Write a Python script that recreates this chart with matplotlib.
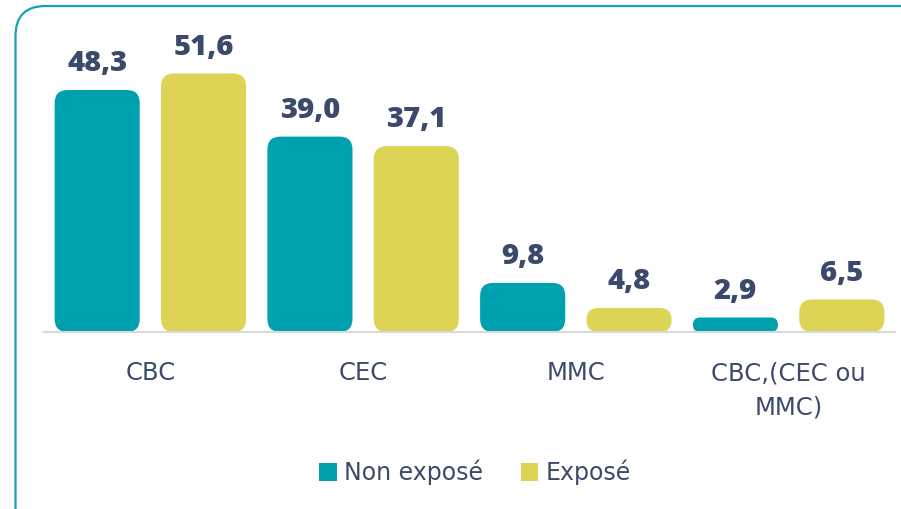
import matplotlib
matplotlib.use("Agg")
import matplotlib.pyplot as plt
from matplotlib.patches import FancyBboxPatch, Patch
from matplotlib.transforms import IdentityTransform

categories = ["CBC", "CEC", "MMC", "CBC,(CEC ou\nMMC)"]
series_names = ["Non exposé", "Exposé"]
non_expose = [48.3, 39.0, 9.8, 2.9]
expose = [51.6, 37.1, 4.8, 6.5]
value_labels_non = ["48,3", "39,0", "9,8", "2,9"]
value_labels_exp = ["51,6", "37,1", "4,8", "6,5"]

TEAL = "#00A1AF"
YELLOW = "#DDD455"
NAVY = "#3B4A6B"
VFONT = "Open Sans"
TFONT = "DejaVu Sans"

W, H, DPI = 901, 509, 100
fig = plt.figure(figsize=(W / DPI, H / DPI), dpi=DPI)
fig.patch.set_facecolor("white")

# outer rounded frame (partially cut at right and bottom)
frame = FancyBboxPatch((15.5, -40), 940, 506 + 40 - 3, boxstyle="round,pad=0,rounding_size=30",
                       transform=IdentityTransform(), fill=False, edgecolor="#14A3B3", linewidth=1.6)
fig.patches.append(frame)

ax_left, ax_right = 44, 895
ax_bottom = H - 332
ymax = 60
px_per_unit = 5.01
ax_h = ymax * px_per_unit
ax = fig.add_axes([ax_left / W, ax_bottom / H, (ax_right - ax_left) / W, ax_h / H])
ax.set_xlim(-0.5, 3.5)
ax.set_ylim(0, ymax)

x = list(range(len(categories)))
bw = 0.4
off = 0.25
bars1 = ax.bar([i - off for i in x], non_expose, width=bw, color=TEAL)
bars2 = ax.bar([i + off for i in x], expose, width=bw, color=YELLOW)

# replace rectangles with rounded patches
x_px_per_unit = (ax_right - ax_left) / 4.0
aspect = (1 / px_per_unit) / (1 / x_px_per_unit)
for bars in (bars1, bars2):
    for r in bars:
        r.set_visible(False)
        h = r.get_height()
        rad_px = min(13, h * px_per_unit / 2)
        rs = rad_px / x_px_per_unit
        p = FancyBboxPatch((r.get_x(), 0), r.get_width(), h,
                           boxstyle=f"round,pad=0,rounding_size={rs}",
                           mutation_aspect=aspect, facecolor=r.get_facecolor(),
                           edgecolor="none", clip_on=False)
        ax.add_patch(p)

for bars, labels in ((bars1, value_labels_non), (bars2, value_labels_exp)):
    for r, lab in zip(bars, labels):
        ax.annotate(lab, (r.get_x() + r.get_width() / 2, r.get_height()),
                    xytext=(0, 13.5), textcoords="offset points", ha="center", va="baseline",
                    fontsize=21, fontweight=800, color=NAVY, family=VFONT)

for s in ["top", "right", "left"]:
    ax.spines[s].set_visible(False)
ax.spines["bottom"].set_color("#D9D9D9")
ax.spines["bottom"].set_linewidth(1.5)
ax.set_yticks([])
ax.set_xticks(x)
ax.set_xticklabels(categories, fontsize=17.5, color=NAVY, family=TFONT, linespacing=1.55)
ax.tick_params(axis="x", length=0, pad=21)

handles = [Patch(facecolor=TEAL), Patch(facecolor=YELLOW)]
leg = fig.legend(handles, series_names, loc="center", bbox_to_anchor=(0.527, 0.072),
                 ncol=2, frameon=False, handlelength=0.75, handleheight=0.75,
                 handletextpad=0.3, columnspacing=1.6,
                 prop={"family": TFONT, "size": 17})
for t in leg.get_texts():
    t.set_color(NAVY)

fig.savefig("out.png", dpi=DPI)
